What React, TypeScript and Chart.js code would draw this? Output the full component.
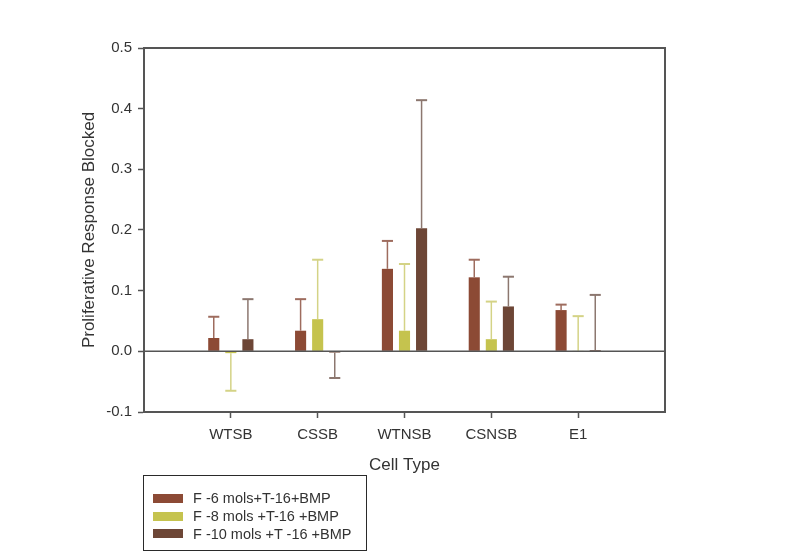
import React, { useEffect, useRef } from "react";
import { Chart, registerables } from "chart.js";

Chart.register(...registerables);

const categories = ["WTSB", "CSSB", "WTNSB", "CSNSB", "E1"];
const seriesNames = [
  "F -6 mols+T-16+BMP",
  "F -8 mols +T-16 +BMP",
  "F -10 mols +T -16 +BMP",
];
const values6 = [0.022, 0.034, 0.136, 0.122, 0.068];
const errors6 = [0.035, 0.052, 0.046, 0.029, 0.009];
const values8 = [-0.003, 0.053, 0.034, 0.02, 0.001];
const errors8 = [0.062, 0.098, 0.11, 0.062, 0.057];
const values10 = [0.02, -0.002, 0.203, 0.074, 0.002];
const errors10 = [0.066, 0.042, 0.211, 0.049, 0.091];
const yTicks = [-0.1, 0.0, 0.1, 0.2, 0.3, 0.4, 0.5];

const barColors = ["#8C4A35", "#C5C34E", "#6D4636"];
const errColors = ["#9E6C5E", "#D4D386", "#8C776F"];
const FONT = "'Liberation Sans', Arial, sans-serif";

const pad = (a: number[]) => [null, ...a, null];

export default function App() {
  const ref = useRef<HTMLCanvasElement | null>(null);

  useEffect(() => {
    if (!ref.current) return;
    const errs = [errors6, errors8, errors10];
    const vals = [values6, values8, values10];

    const errorBars = {
      id: "errorBars",
      afterDatasetsDraw(chart: any) {
        const ctx = chart.ctx;
        const y = chart.scales.y;
        ctx.save();
        for (let d = 0; d < 3; d++) {
          const meta = chart.getDatasetMeta(d);
          meta.data.forEach((bar: any, i: number) => {
            const k = i - 1;
            if (k < 0 || k >= categories.length) return;
            const v = vals[d][k];
            const e = errs[d][k];
            const end = v >= 0 ? v + e : v - e;
            const yEnd = y.getPixelForValue(end);
            const yStart = y.getPixelForValue(v);
            const w = bar.width;
            ctx.strokeStyle = errColors[d];
            ctx.lineWidth = 1.5;
            ctx.beginPath();
            ctx.moveTo(bar.x, yStart);
            ctx.lineTo(bar.x, yEnd);
            ctx.stroke();
            ctx.lineWidth = 2;
            ctx.beginPath();
            ctx.moveTo(bar.x - w / 2, yEnd);
            ctx.lineTo(bar.x + w / 2, yEnd);
            ctx.stroke();
          });
        }
        ctx.restore();
      },
    };

    const frame = {
      id: "frame",
      afterDraw(chart: any) {
        const { left, right, top, bottom } = chart.chartArea;
        const ctx = chart.ctx;
        ctx.save();
        ctx.strokeStyle = "#555555";
        ctx.lineWidth = 2;
        ctx.beginPath();
        ctx.moveTo(left, top);
        ctx.lineTo(right, top);
        ctx.lineTo(right, bottom);
        ctx.stroke();
        const y0 = chart.scales.y.getPixelForValue(0);
        ctx.lineWidth = 1.5;
        ctx.beginPath();
        ctx.moveTo(left, y0);
        ctx.lineTo(right, y0);
        ctx.stroke();
        ctx.restore();
      },
    };

    const chart = new Chart(ref.current, {
      type: "bar",
      data: {
        labels: ["", ...categories, ""],
        datasets: [
          { label: seriesNames[0], data: pad(values6) as any, backgroundColor: barColors[0] },
          { label: seriesNames[1], data: pad(values8) as any, backgroundColor: barColors[1] },
          { label: seriesNames[2], data: pad(values10) as any, backgroundColor: barColors[2] },
        ],
      },
      options: {
        responsive: false,
        animation: false,
        devicePixelRatio: 1,
        layout: { padding: { left: 0, top: 48, right: 134, bottom: 75 } },
        datasets: { bar: { categoryPercentage: 0.59, barPercentage: 0.65 } },
        plugins: { legend: { display: false }, tooltip: { enabled: false } },
        scales: {
          x: {
            offset: false,
            afterFit: (s: any) => { s.height = 70; },
            border: { display: true, color: "#555555", width: 2 },
            grid: {
              offset: false,
              drawOnChartArea: false,
              tickLength: 6,
              tickWidth: 1.5,
              tickColor: (c: any) => (c.tick && c.tick.label === "" ? "rgba(0,0,0,0)" : "#555555"),
            },
            ticks: {
              autoSkip: false,
              maxRotation: 0,
              padding: 8,
              color: "#333333",
              font: { family: FONT, size: 15 },
            },
            title: {
              display: true,
              text: "Cell Type",
              color: "#333333",
              font: { family: FONT, size: 17 },
              padding: { top: 0, bottom: 6 },
            },
          },
          y: {
            min: -0.1,
            max: 0.5,
            afterFit: (s: any) => { s.width = 144; },
            afterBuildTicks: (s: any) => { s.ticks = yTicks.map((v) => ({ value: v })); },
            border: { display: true, color: "#555555", width: 2 },
            grid: {
              color: "rgba(0,0,0,0)",
              tickLength: 6,
              tickWidth: 1.5,
              tickColor: "#555555",
            },
            ticks: {
              padding: 6,
              color: "#333333",
              font: { family: FONT, size: 15 },
              callback: (v: any) => Number(v).toFixed(1),
            },
            title: {
              display: true,
              text: "Proliferative Response Blocked",
              color: "#333333",
              font: { family: FONT, size: 17 },
              padding: { top: 79, bottom: 0 },
            },
          },
        },
      },
      plugins: [errorBars, frame],
    });
    return () => chart.destroy();
  }, []);

  const rowTops = [498, 516, 533.5];

  return (
    <div style={{ position: "fixed", left: 0, top: 0, width: 799, height: 557, background: "#fff" }}>
      <canvas ref={ref} width={799} height={557} style={{ position: "absolute", left: 0, top: 0 }} />
      <div
        style={{
          position: "absolute",
          left: 143,
          top: 475,
          width: 224,
          height: 76,
          boxSizing: "border-box",
          border: "1.5px solid #2a2a2a",
        }}
      />
      {seriesNames.map((name, i) => (
        <React.Fragment key={name}>
          <div
            style={{
              position: "absolute",
              left: 153,
              top: rowTops[i] - 4.5,
              width: 30,
              height: 9,
              background: barColors[i],
            }}
          />
          <div
            style={{
              position: "absolute",
              left: 193,
              top: rowTops[i] - 9,
              height: 18,
              lineHeight: "18px",
              fontFamily: FONT,
              fontSize: 14.5,
              color: "#333333",
              whiteSpace: "nowrap",
            }}
          >
            {name}
          </div>
        </React.Fragment>
      ))}
    </div>
  );
}
